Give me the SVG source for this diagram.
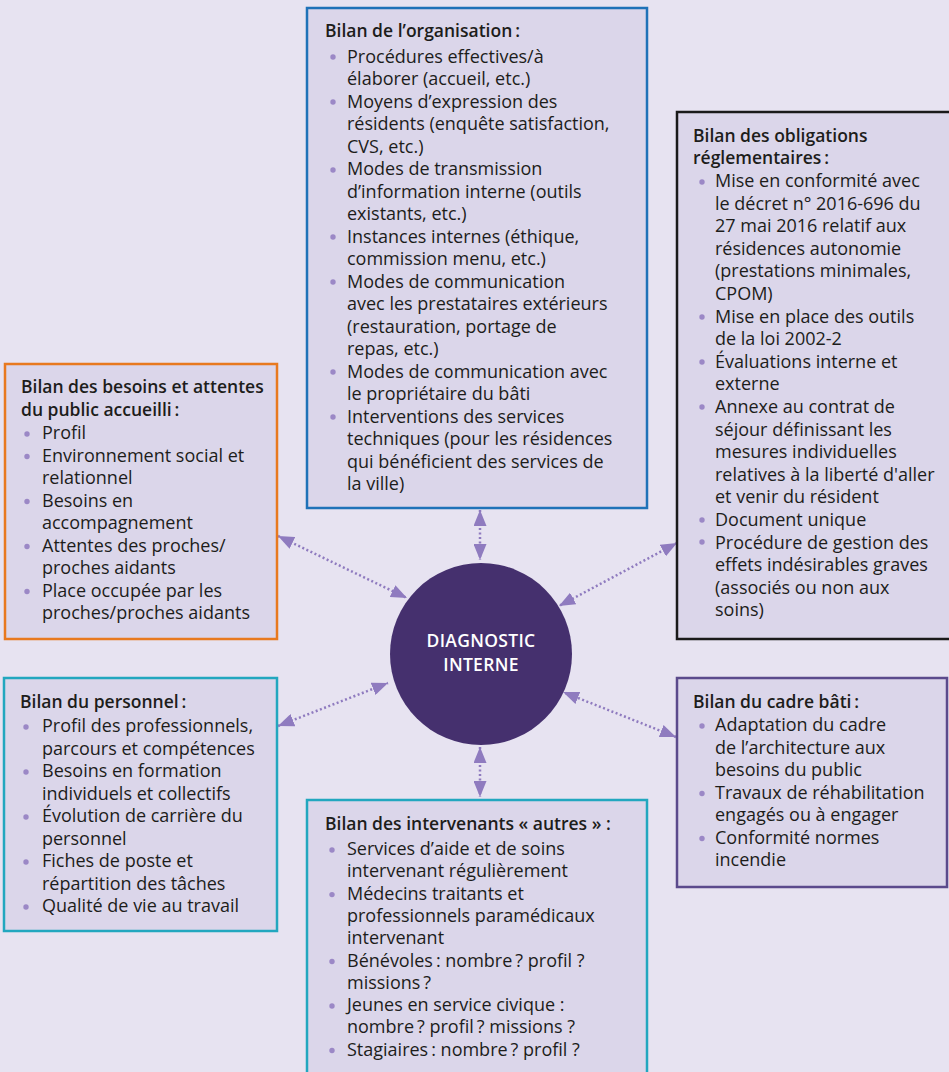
<svg xmlns="http://www.w3.org/2000/svg" width="949" height="1072" viewBox="0 0 949 1072">
<style>
.bg{fill:#e7e3f1}
.box{fill:#dbd6ea;stroke-width:2.5}
.t{font-family:"Open Sans","Noto Sans","Liberation Sans",sans-serif;font-size:18px;fill:#1d1d1b}
.h{font-weight:600;font-size:17.5px}
.b{fill:#9b88c6}
.con{stroke:#8f7bbf;stroke-width:2.5;stroke-dasharray:2 2.5;fill:none;marker-start:url(#ah);marker-end:url(#ah)}
.ct{font-family:"Open Sans","Noto Sans","Liberation Sans",sans-serif;font-size:17.5px;font-weight:600;fill:#ffffff;letter-spacing:0.3px}
</style>
<defs>
<marker id="ah" viewBox="0 0 16 13" refX="16" refY="6.5" markerWidth="16" markerHeight="13" markerUnits="userSpaceOnUse" orient="auto-start-reverse">
<path d="M0,0 L16,6.5 L0,13 z" fill="#8f7bbf"/>
</marker>
</defs>
<rect class="bg" x="0" y="0" width="949" height="1072"/>

<g id="connectors">
<line class="con" x1="480" y1="510" x2="480" y2="560"/>
<line class="con" x1="480" y1="747" x2="480" y2="797"/>
<line class="con" x1="278" y1="536" x2="407" y2="598"/>
<line class="con" x1="677" y1="543" x2="559" y2="606"/>
<line class="con" x1="278" y1="726" x2="388" y2="683"/>
<line class="con" x1="676" y1="737" x2="563" y2="692"/>
</g>

<g id="node-organisation">
<rect class="box" x="307" y="8" width="340" height="500" stroke="#1f72b8"/>
<text class="t h" x="325" y="37">Bilan de l’organisation&#8201;:</text>
<g class="b">
<circle cx="333" cy="57" r="2.7"/><circle cx="333" cy="102" r="2.7"/><circle cx="333" cy="170" r="2.7"/><circle cx="333" cy="237" r="2.7"/><circle cx="333" cy="282" r="2.7"/><circle cx="333" cy="372" r="2.7"/><circle cx="333" cy="417" r="2.7"/>
</g>
<text class="t" x="347" y="62.5"><tspan x="347">Procédures effectives/à</tspan><tspan x="347" dy="22.5">élaborer (accueil, etc.)</tspan><tspan x="347" dy="22.5">Moyens d’expression des</tspan><tspan x="347" dy="22.5">résidents (enquête satisfaction,</tspan><tspan x="347" dy="22.5">CVS, etc.)</tspan><tspan x="347" dy="22.5">Modes de transmission</tspan><tspan x="347" dy="22.5">d’information interne (outils</tspan><tspan x="347" dy="22.5">existants, etc.)</tspan><tspan x="347" dy="22.5">Instances internes (éthique,</tspan><tspan x="347" dy="22.5">commission menu, etc.)</tspan><tspan x="347" dy="22.5">Modes de communication</tspan><tspan x="347" dy="22.5">avec les prestataires extérieurs</tspan><tspan x="347" dy="22.5">(restauration, portage de</tspan><tspan x="347" dy="22.5">repas, etc.)</tspan><tspan x="347" dy="22.5">Modes de communication avec</tspan><tspan x="347" dy="22.5">le propriétaire du bâti</tspan><tspan x="347" dy="22.5">Interventions des services</tspan><tspan x="347" dy="22.5">techniques (pour les résidences</tspan><tspan x="347" dy="22.5">qui bénéficient des services de</tspan><tspan x="347" dy="22.5">la ville)</tspan></text>
</g>

<g id="node-obligations">
<rect class="box" x="677" y="112" width="290" height="527" stroke="#1a1a1a"/>
<text class="t h" x="693" y="141.5"><tspan x="693">Bilan des obligations</tspan><tspan x="693" dy="22.5">réglementaires&#8201;:</tspan></text>
<g class="b">
<circle cx="702" cy="182" r="2.7"/><circle cx="702" cy="317" r="2.7"/><circle cx="702" cy="362" r="2.7"/><circle cx="702" cy="407" r="2.7"/><circle cx="702" cy="520" r="2.7"/><circle cx="702" cy="542" r="2.7"/>
</g>
<text class="t" x="715" y="187"><tspan x="715">Mise en conformité avec</tspan><tspan x="715" dy="22.6">le décret n° 2016-696 du</tspan><tspan x="715" dy="22.6">27 mai 2016 relatif aux</tspan><tspan x="715" dy="22.6">résidences autonomie</tspan><tspan x="715" dy="22.6">(prestations minimales,</tspan><tspan x="715" dy="22.6">CPOM)</tspan><tspan x="715" dy="22.6">Mise en place des outils</tspan><tspan x="715" dy="22.6">de la loi 2002-2</tspan><tspan x="715" dy="22.6">Évaluations interne et</tspan><tspan x="715" dy="22.6">externe</tspan><tspan x="715" dy="22.6">Annexe au contrat de</tspan><tspan x="715" dy="22.6">séjour définissant les</tspan><tspan x="715" dy="22.6">mesures individuelles</tspan><tspan x="715" dy="22.6">relatives à la liberté d'aller</tspan><tspan x="715" dy="22.6">et venir du résident</tspan><tspan x="715" dy="22.6">Document unique</tspan><tspan x="715" dy="22.6">Procédure de gestion des</tspan><tspan x="715" dy="22.6">effets indésirables graves</tspan><tspan x="715" dy="22.6">(associés ou non aux</tspan><tspan x="715" dy="22.6">soins)</tspan></text>
</g>

<g id="node-besoins">
<rect class="box" x="5" y="364" width="272" height="275" stroke="#e8791f"/>
<text class="t h" x="21" y="393"><tspan x="21">Bilan des besoins et attentes</tspan><tspan x="21" dy="22.5">du public accueilli&#8201;:</tspan></text>
<g class="b">
<circle cx="27" cy="434" r="2.7"/><circle cx="27" cy="456.5" r="2.7"/><circle cx="27" cy="501.5" r="2.7"/><circle cx="27" cy="546.5" r="2.7"/><circle cx="27" cy="591.5" r="2.7"/>
</g>
<text class="t" x="42" y="439"><tspan x="42">Profil</tspan><tspan x="42" dy="22.5">Environnement social et</tspan><tspan x="42" dy="22.5">relationnel</tspan><tspan x="42" dy="22.5">Besoins en</tspan><tspan x="42" dy="22.5">accompagnement</tspan><tspan x="42" dy="22.5">Attentes des proches/</tspan><tspan x="42" dy="22.5">proches aidants</tspan><tspan x="42" dy="22.5">Place occupée par les</tspan><tspan x="42" dy="22.5">proches/proches aidants</tspan></text>
</g>

<g id="node-personnel">
<rect class="box" x="4" y="678" width="273" height="253" stroke="#22a7bf"/>
<text class="t h" x="20" y="708">Bilan du personnel&#8201;:</text>
<g class="b">
<circle cx="26" cy="727" r="2.7"/><circle cx="26" cy="772" r="2.7"/><circle cx="26" cy="817" r="2.7"/><circle cx="26" cy="862" r="2.7"/><circle cx="26" cy="907" r="2.7"/>
</g>
<text class="t" x="42" y="732"><tspan x="42">Profil des professionnels,</tspan><tspan x="42" dy="22.5">parcours et compétences</tspan><tspan x="42" dy="22.5">Besoins en formation</tspan><tspan x="42" dy="22.5">individuels et collectifs</tspan><tspan x="42" dy="22.5">Évolution de carrière du</tspan><tspan x="42" dy="22.5">personnel</tspan><tspan x="42" dy="22.5">Fiches de poste et</tspan><tspan x="42" dy="22.5">répartition des tâches</tspan><tspan x="42" dy="22.5">Qualité de vie au travail</tspan></text>
</g>

<g id="node-cadre-bati">
<rect class="box" x="677" y="678" width="270" height="209" stroke="#5b4a8c"/>
<text class="t h" x="693" y="708">Bilan du cadre bâti&#8201;:</text>
<g class="b">
<circle cx="702" cy="726" r="2.7"/><circle cx="702" cy="793.5" r="2.7"/><circle cx="702" cy="838.5" r="2.7"/>
</g>
<text class="t" x="715" y="731"><tspan x="715">Adaptation du cadre</tspan><tspan x="715" dy="22.5">de l’architecture aux</tspan><tspan x="715" dy="22.5">besoins du public</tspan><tspan x="715" dy="22.5">Travaux de réhabilitation</tspan><tspan x="715" dy="22.5">engagés ou à engager</tspan><tspan x="715" dy="22.5">Conformité normes</tspan><tspan x="715" dy="22.5">incendie</tspan></text>
</g>

<g id="node-intervenants">
<rect class="box" x="307" y="800" width="340" height="290" stroke="#22a7bf"/>
<text class="t h" x="325" y="830">Bilan des intervenants « autres » :</text>
<g class="b">
<circle cx="332" cy="850" r="2.7"/><circle cx="332" cy="894.6" r="2.7"/><circle cx="332" cy="961.5" r="2.7"/><circle cx="332" cy="1006" r="2.7"/><circle cx="332" cy="1050.5" r="2.7"/>
</g>
<text class="t" x="347" y="855"><tspan x="347">Services d’aide et de soins</tspan><tspan x="347" dy="22.3">intervenant régulièrement</tspan><tspan x="347" dy="22.3">Médecins traitants et</tspan><tspan x="347" dy="22.3">professionnels paramédicaux</tspan><tspan x="347" dy="22.3">intervenant</tspan><tspan x="347" dy="22.3">Bénévoles&#8201;: nombre&#8201;? profil ?</tspan><tspan x="347" dy="22.3">missions&#8201;?</tspan><tspan x="347" dy="22.3">Jeunes en service civique :</tspan><tspan x="347" dy="22.3">nombre&#8201;? profil&#8201;? missions ?</tspan><tspan x="347" dy="22.3">Stagiaires&#8201;: nombre&#8201;? profil ?</tspan></text>
</g>

<g id="node-diagnostic">
<circle cx="481" cy="654" r="91" fill="#45306e"/>
<text class="ct" x="481" y="647" text-anchor="middle"><tspan x="481">DIAGNOSTIC</tspan><tspan x="481" dy="24">INTERNE</tspan></text>
</g>
</svg>
